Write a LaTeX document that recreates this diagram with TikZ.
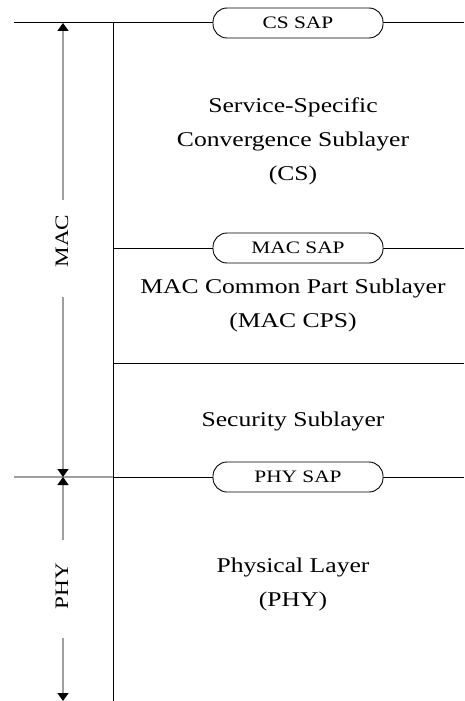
\documentclass[tikz,border=0pt]{standalone}
\usepackage{fontspec}
\setmainfont{Liberation Serif}[FakeStretch=1.22]
\usetikzlibrary{arrows.meta}
\tikzset{
  layer/.style={font=\fontsize{21}{34}\selectfont, align=center, inner sep=0pt},
  sap/.style={draw=black, line width=0.9pt, fill=white, rounded corners=14pt,
              minimum width=170pt, minimum height=30pt, inner sep=0pt,
              font=\fontsize{17.5}{20}\selectfont},
  border/.style={black, line width=1pt},
  span/.style={gray!75, line width=1.6pt},
  spantip/.style={span, -{Triangle[width=11pt,length=8pt,black]}},
  spanlabel/.style={rotate=90, font=\fontsize{19}{22}\selectfont, inner sep=0pt}
}
\begin{document}
\begin{tikzpicture}[x=1pt,y=-1pt]
  \useasboundingbox (0,0) rectangle (464,701);

  % layer boundaries
  \coordinate (topL) at (14,23);
  \coordinate (topR) at (464,23);
  \coordinate (macL) at (113,248);
  \coordinate (macR) at (464,248);
  \coordinate (secL) at (113,363);
  \coordinate (secR) at (464,363);
  \coordinate (phyL) at (14,477);
  \coordinate (phyM) at (113,477);
  \coordinate (phyR) at (464,477);
  \coordinate (vTop) at (113,23);
  \coordinate (vBot) at (113,701);

  \draw[border] (topL) -- (topR);
  \draw[border] (macL) -- (macR);
  \draw[border] (secL) -- (secR);
  \draw[span, line width=1.4pt] (phyL) -- (phyM);
  \draw[border] (phyM) -- (phyR);
  \draw[border] (vTop) -- (vBot);

  % service access points
  \node[sap] (cssap)  at (298,23)  {CS SAP};
  \node[sap] (macsap) at (298,248) {MAC SAP};
  \node[sap] (physap) at (298,477) {PHY SAP};

  % layer descriptions
  \node[layer] (cs)  at (293,141) {Service-Specific\\Convergence Sublayer\\(CS)};
  \node[layer] (cps) at (293,305) {MAC Common Part Sublayer\\(MAC CPS)};
  \node[layer] (sec) at (293,421) {Security Sublayer};
  \node[layer] (phy) at (293,584) {Physical Layer\\(PHY)};

  % MAC extent
  \node[spanlabel] (maclbl) at (62,241) {MAC};
  \coordinate (macA) at (63,200);
  \coordinate (macB) at (63,297);
  \coordinate (macTop) at (63,23);
  \coordinate (macBot) at (63,477);
  \draw[spantip] (macA) -- (macTop);
  \draw[spantip] (macB) -- (macBot);

  % PHY extent
  \node[spanlabel] (phylbl) at (62,586) {PHY};
  \coordinate (phyA) at (63,540);
  \coordinate (phyB) at (63,638);
  \coordinate (phyTop) at (63,477);
  \coordinate (phyBot) at (63,701);
  \draw[spantip] (phyA) -- (phyTop);
  \draw[spantip] (phyB) -- (phyBot);
\end{tikzpicture}
\end{document}
